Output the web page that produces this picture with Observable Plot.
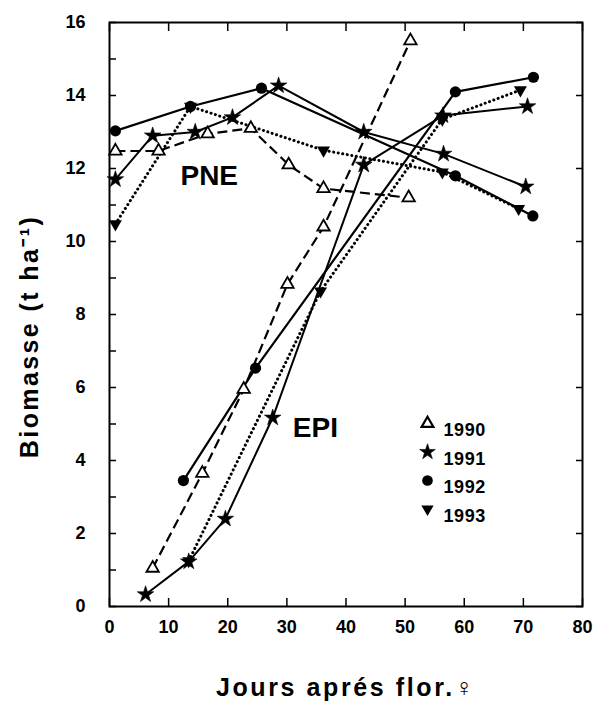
<!DOCTYPE html>
<html><head><meta charset="utf-8">
<script src="https://cdn.jsdelivr.net/npm/d3@7"></script>
<script src="https://cdn.jsdelivr.net/npm/@observablehq/plot@0.6"></script>
<style>
body{margin:0;background:#fff;}
#chart{width:602px;height:707px;}
</style></head><body><div id="chart"></div>
<script>
// ---- data (days after flowering, biomass t/ha) ----
const years = ["1990", "1991", "1992", "1993"];
const pne1990 = [[1,12.48],[8.3,12.48],[16.6,12.95],[23.9,13.1],[30.3,12.1],[36.2,11.45],[50.6,11.2]];
const pne1991 = [[1,11.7],[7.3,12.9],[14.5,13.0],[20.8,13.4],[28.6,14.27],[43,13.0],[56.5,12.4],[70.4,11.5]];
const pne1992 = [[1,13.03],[13.7,13.7],[25.7,14.2],[58.5,11.8],[71.6,10.7]];
const pne1993 = [[1,10.48],[13.7,13.7],[36.2,12.5],[56.3,11.9],[69.2,10.9]];
const epi1990 = [[7.3,1.05],[15.7,3.65],[22.7,5.95],[30.1,8.83],[36.2,10.4],[50.9,15.5]];
const epi1991 = [[6.1,0.33],[13.4,1.23],[19.6,2.4],[27.6,5.17],[43,12.1],[56.4,13.45],[70.7,13.7]];
const epi1992 = [[12.5,3.45],[24.7,6.53],[58.5,14.1],[71.7,14.5]];
const epi1993 = [[13.4,1.25],[35.7,8.64],[56.3,13.35],[69.5,14.15]];
const xTicks = [0,10,20,30,40,50,60,70,80];
const yTicks = [0,2,4,6,8,10,12,14,16];
const yMinorTicks = [0,1,2,3,4,5,6,7,8,9,10,11,12,13,14,15,16];
const xTitle = "Jours aprés flor.♀";
const yTitle = "Biomasse (t ha⁻¹)";
const phaseLabels = ["PNE", "EPI"];

// ---- build table ----
const seriesByYear = {
  "1990": [pne1990, epi1990],
  "1991": [pne1991, epi1991],
  "1992": [pne1992, epi1992],
  "1993": [pne1993, epi1993]
};
const rows = [];
for (const yr of years) {
  seriesByYear[yr].forEach((arr, i) => {
    for (const [x, y] of arr) rows.push({year: yr, phase: phaseLabels[i], x, y});
  });
}

const style = {
  "1990": {dash: "10,5", width: 2.2, symbol: "triangle", fill: "white", r: 4.6, rotate: 0, sw: 1.8},
  "1991": {dash: null, width: 2, symbol: "star", fill: "black", r: 5.2, rotate: 0, sw: 0.6},
  "1992": {dash: null, width: 2.2, symbol: "circle", fill: "black", r: 5.6, rotate: 0, sw: 0},
  "1993": {dash: "0.1,4.5", width: 3, symbol: "triangle", fill: "black", r: 4.8, rotate: 180, sw: 0}
};

const font = "'Liberation Sans', Arial, Helvetica, sans-serif";
const marks = [
  Plot.frame({stroke: "black", strokeWidth: 2}),
  Plot.axisX(xTicks, {anchor: "bottom", tickSize: -8, tickPadding: 22, label: null, fontSize: 18, fontWeight: "bold", strokeWidth: 1.5}),
  Plot.axisX(xTicks, {anchor: "top", tickSize: -8, tickFormat: () => "", label: null, strokeWidth: 1.5}),
  Plot.axisY(yTicks, {anchor: "left", tickSize: 0, tickPadding: 24, label: null, fontSize: 18, fontWeight: "bold"}),
  Plot.axisY(yMinorTicks, {anchor: "left", tickSize: -7, tickFormat: () => "", label: null, strokeWidth: 1.5}),
  Plot.axisY(yTicks, {anchor: "right", tickSize: -7, tickFormat: () => "", label: null, strokeWidth: 1.5}),
];

for (const yr of years) {
  const s = style[yr];
  const data = rows.filter(d => d.year === yr);
  marks.push(Plot.line(data, {
    x: "x", y: "y", z: "phase", stroke: "black", strokeWidth: s.width,
    strokeDasharray: s.dash, strokeLinecap: yr === "1993" ? "round" : "butt", curve: "linear"
  }));
}
for (const yr of years) {
  const s = style[yr];
  const data = rows.filter(d => d.year === yr);
  marks.push(Plot.dot(data, {
    x: "x", y: "y", symbol: () => s.symbol, r: s.r, fill: s.fill, stroke: "black",
    strokeWidth: s.sw, rotate: s.rotate
  }));
}

// phase labels
marks.push(Plot.text([phaseLabels[0]], {x: () => 12.0, y: () => 11.8, text: d => d, textAnchor: "start", fontSize: 28, fontWeight: "bold"}));
marks.push(Plot.text([phaseLabels[1]], {x: () => 31.0, y: () => 4.9, text: d => d, textAnchor: "start", fontSize: 28, fontWeight: "bold"}));

// legend (inside the frame)
const legX = 318, legY = 401, legStep = 28.5;
years.forEach((yr, i) => {
  const s = style[yr];
  marks.push(Plot.dot([yr], {frameAnchor: "top-left", dx: legX, dy: legY + i * legStep,
    symbol: () => s.symbol, r: s.r * 0.95, fill: yr === "1990" ? "white" : "black", stroke: "black",
    strokeWidth: yr === "1990" ? 2.2 : s.sw, rotate: s.rotate}));
  marks.push(Plot.text([yr], {frameAnchor: "top-left", dx: legX + 16, dy: legY + i * legStep,
    text: d => d, textAnchor: "start", fontSize: 18, fontWeight: "bold"}));
});

// axis titles
marks.push(Plot.text([xTitle], {frameAnchor: "bottom", dy: 89, text: d => d, textAnchor: "middle", fontSize: 25, fontWeight: "bold"}));
marks.push(Plot.text([yTitle], {frameAnchor: "left", dx: -80, dy: 22, rotate: -90, text: d => d, textAnchor: "middle", fontSize: 25, fontWeight: "bold"}));

const chart = Plot.plot({
  width: 602, height: 707,
  marginLeft: 109, marginRight: 20, marginTop: 22, marginBottom: 101,
  style: {fontFamily: font, background: "white", color: "black", overflow: "visible"},
  x: {domain: [0, 80]},
  y: {domain: [0, 16]},
  marks
});
// widen the letter spacing of the two axis titles, as in the original typesetting
d3.select(chart).selectAll("text").each(function () {
  const t = this.textContent;
  if (t === xTitle) d3.select(this).attr("letter-spacing", "2.6px");
  if (t === yTitle) d3.select(this).attr("letter-spacing", "2.4px");
  if (t === "1990" || t === "1991" || t === "1992" || t === "1993") d3.select(this).attr("letter-spacing", "0.6px");
});
document.getElementById("chart").appendChild(chart);
</script>
</body></html>
